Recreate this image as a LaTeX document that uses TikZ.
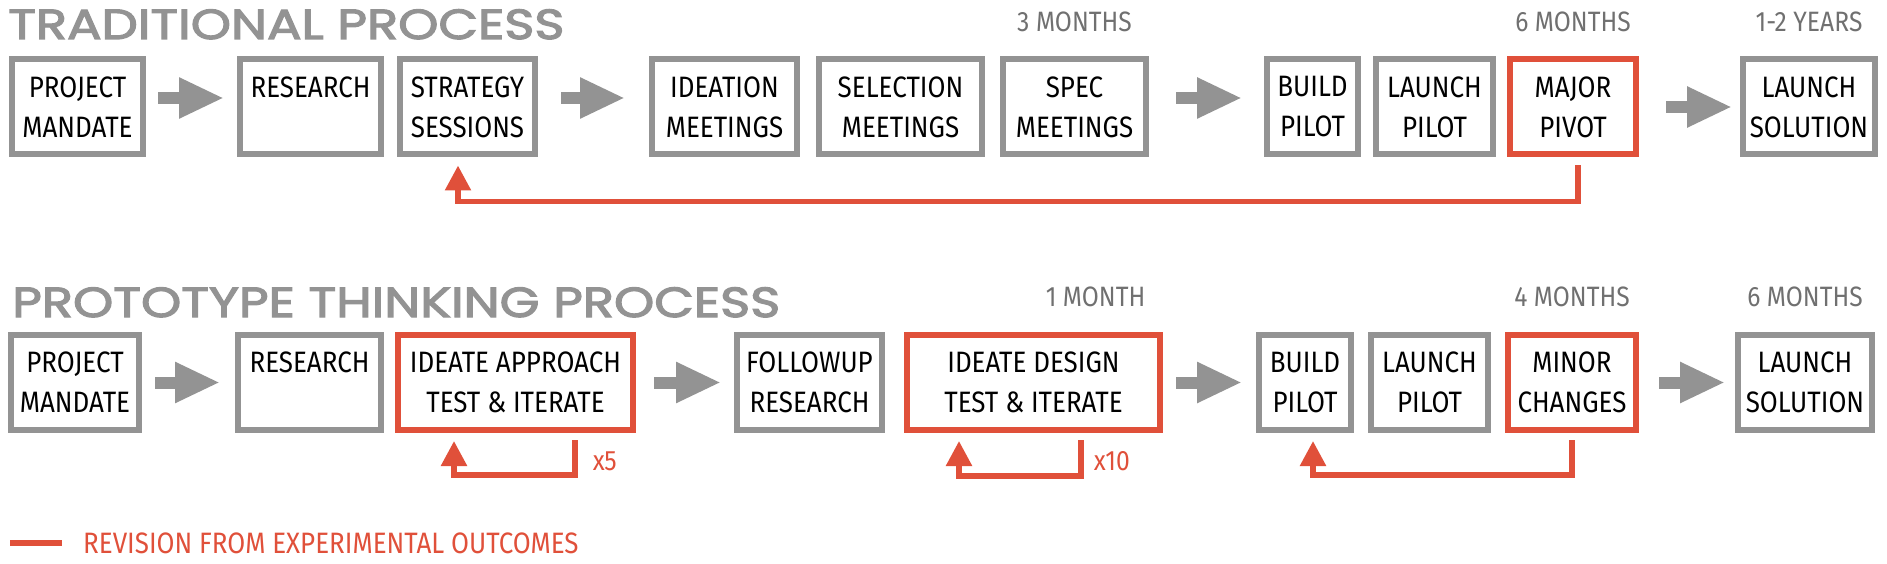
\documentclass[tikz,border=0pt]{standalone}
\usepackage{fontspec}
\setmainfont{Fira Sans}
\newfontfamily\lblfont{Fira Sans}[FakeStretch=0.88]
\newfontfamily\ttlfont{Poppins}[FakeStretch=1.22,FakeBold=3]
\usetikzlibrary{arrows.meta,positioning}
\definecolor{boxgray}{HTML}{939393}
\definecolor{revred}{HTML}{E0503A}
\definecolor{monthgray}{HTML}{707070}
\tikzstyle{stage}=[draw=boxgray,line width=6pt,fill=white,minimum height=95,inner sep=0pt,align=center,font=\lblfont\fontsize{29.5}{40}\selectfont]
\tikzstyle{title}=[text=boxgray,inner sep=0pt,anchor=base west,font=\ttlfont\fontsize{42}{42}\selectfont]
\tikzstyle{months}=[text=monthgray,inner sep=0pt,anchor=base,font=\lblfont\fontsize{28}{28}\selectfont]
\tikzstyle{times}=[text=revred,inner sep=0pt,anchor=west,font=\lblfont\fontsize{28}{28}\selectfont]
\tikzstyle{garrow}=[draw=boxgray,line width=12pt,-{Triangle[length=45pt,width=38pt]}]
\tikzstyle{revloop}=[draw=revred,line width=5.5pt,-{Triangle[length=25pt,width=25pt]}]

\begin{document}
\begin{tikzpicture}[x=1pt,y=-1pt]
    \useasboundingbox (0,0) rectangle (1887,564);

    \def\yt{107};
    \def\yp{382.5};

    \node[title] (ttrad) at (8,39) {TRADITIONAL PROCESS};
    \node[title] (tproto) at (12,317) {PROTOTYPE THINKING PROCESS};

    % traditional process
    \foreach \x/\w/\c/\name/\txt in {77.5/131/boxgray/tPM/{PROJECT\\MANDATE}, 310.5/141/boxgray/tRes/{RESEARCH\\\vphantom{R}},
        467.5/135/boxgray/tStr/{STRATEGY\\SESSIONS}, 724.5/145/boxgray/tIde/{IDEATION\\MEETINGS},
        900.5/163/boxgray/tSel/{SELECTION\\MEETINGS}, 1074.5/143/boxgray/tSpec/{SPEC\\MEETINGS},
        1312.5/91/boxgray/tBuild/{BUILD\\PILOT}, 1434.5/117/boxgray/tLPilot/{LAUNCH\\PILOT},
        1573/126/revred/tMajor/{MAJOR\\PIVOT}, 1809/132/boxgray/tLSol/{LAUNCH\\SOLUTION}}
        \node[stage, draw=\c, minimum width=\w] (\name) at (\x,\yt) {\txt};

    % prototype thinking process
    \foreach \x/\w/\c/\name/\txt in {75/128/boxgray/bPM/{PROJECT\\MANDATE}, 309.5/143/boxgray/bRes/{RESEARCH\\\vphantom{R}},
        515.5/235/revred/bApp/{IDEATE APPROACH\\TEST \& ITERATE}, 809.5/145/boxgray/bFol/{FOLLOWUP\\RESEARCH},
        1033.5/253/revred/bDes/{IDEATE DESIGN\\TEST \& ITERATE}, 1305/92/boxgray/bBuild/{BUILD\\PILOT},
        1429.5/117/boxgray/bLPilot/{LAUNCH\\PILOT}, 1572/128/revred/bMinor/{MINOR\\CHANGES},
        1805/134/boxgray/bLSol/{LAUNCH\\SOLUTION}}
        \node[stage, draw=\c, minimum width=\w] (\name) at (\x,\yp) {\txt};

    % durations
    \node[months] at ([yshift=25pt]tSpec.north) {3 MONTHS};
    \node[months] at ([yshift=25pt]tMajor.north) {6 MONTHS};
    \node[months] at ([yshift=25pt]tLSol.north) {1-2 YEARS};
    \node[months] at ([xshift=62pt,yshift=26pt]bDes.north) {1 MONTH};
    \node[months] at ([yshift=26pt]bMinor.north) {4 MONTHS};
    \node[months] at ([yshift=26pt]bLSol.north) {6 MONTHS};

    \foreach \a/\b/\s/\e/\dy in {tPM/tRes/12/13/9, tStr/tIde/23/24/9, tSpec/tBuild/27/22/9, tMajor/tLSol/27/8/0,
        bPM/bRes/13/15/0, bApp/bFol/18/13/0, bDes/bBuild/13/14/0, bMinor/bLSol/20/10/0}
        \draw[garrow] ([xshift=\s pt,yshift=\dy pt]\a.east) -- ([xshift=-\e pt,yshift=\dy pt]\b.west);

    % revisions
    \draw[revloop] ([shift={(5,8)}]tMajor.south) -- ++(0,36) -| ([shift={(-9.5,8)}]tStr.south);
    \draw[revloop] ([shift={(59.5,7)}]bApp.south) -- node[times, pos=0.6, right=15pt] {x5} ++(0,35) -| ([shift={(-61.5,8)}]bApp.south);
    \draw[revloop] ([shift={(47.5,7)}]bDes.south) -- node[times, pos=0.6, right=10pt] {x10} ++(0,36) -| ([shift={(-74.5,8)}]bDes.south);
    \draw[revloop] ([shift={(0,7)}]bMinor.south) -- ++(0,35) -| ([shift={(8,8)}]bBuild.south);

    \draw[revred, line width=6pt] (10,543) -- (62,543);
    \node[times, anchor=base west, font=\lblfont\fontsize{29.5}{29.5}\selectfont] at (83,553) {REVISION FROM EXPERIMENTAL OUTCOMES};

\end{tikzpicture}
\end{document}
